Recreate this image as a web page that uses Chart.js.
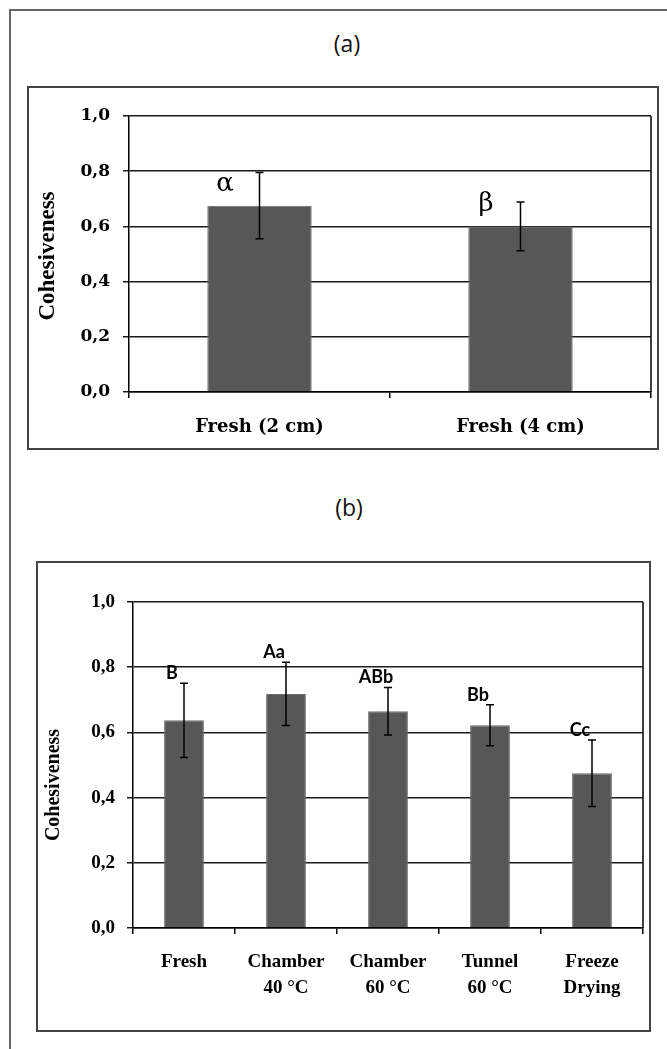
<!DOCTYPE html>
<html lang="en">
<head>
<meta charset="UTF-8">
<title>Cohesiveness</title>
<script src="https://cdn.jsdelivr.net/npm/chart.js"></script>
<style>
  body { margin: 0; background: #fff; }
  .page { position: relative; width: 667px; height: 1049px; overflow: hidden; }
  .frame { position: absolute; left: 9px; top: 9px; width: 720px; height: 1100px; border: 2px solid #666; }
  .box { position: absolute; border: 2px solid #444; box-sizing: border-box; }
  .ttl { position: absolute; width: 120px; text-align: center; font-family: "Open Sans", sans-serif; font-size: 23px; line-height: 30px; color: #111; }
  canvas { position: absolute; }
</style>
</head>
<body>
<div class="page">
  <div class="frame"></div>

  <div class="ttl" style="left:287px; top:28px;">(a)</div>
  <div class="box" style="left:27px; top:86px; width:632px; height:364px;">
    <canvas id="chartA" width="628" height="360" style="left:0; top:0;"></canvas>
  </div>

  <div class="ttl" style="left:289px; top:492px;">(b)</div>
  <div class="box" style="left:36px; top:561px; width:615px; height:471px;">
    <canvas id="chartB" width="611" height="467" style="left:0; top:0;"></canvas>
  </div>
</div>

<script>
// y axis, shared by both panels
const yTickLabels = ['0,0', '0,2', '0,4', '0,6', '0,8', '1,0'];
const yTitle = 'Cohesiveness';

// panel (a)
const catsA = ['Fresh (2 cm)', 'Fresh (4 cm)'];
const meanA = [0.675, 0.600];
const errA = [0.120, 0.088];
const lettersA = ['α', 'β'];

// panel (b)
const catsB = ['Fresh', ['Chamber', '40 °C'], ['Chamber', '60 °C'], ['Tunnel', '60 °C'], ['Freeze', 'Drying']];
const meanB = [0.637, 0.718, 0.665, 0.622, 0.475];
const errB = [0.114, 0.097, 0.073, 0.063, 0.102];
const lettersB = ['B', 'Aa', 'ABb', 'Bb', 'Cc'];

Chart.defaults.color = '#000';
Chart.defaults.font.family = '"Liberation Serif", serif';

// whiskers, letter labels, axis title and right edge of the plot frame
const extras = {
  id: 'extras',
  afterDatasetsDraw(chart, args, opts) {
    const ctx = chart.ctx;
    const y = chart.scales.y;
    const area = chart.chartArea;
    const meta = chart.getDatasetMeta(0);
    ctx.save();
    ctx.strokeStyle = '#000';
    ctx.lineWidth = 1.5;
    ctx.beginPath();
    ctx.moveTo(area.right, area.top);
    ctx.lineTo(area.right, area.bottom);
    ctx.stroke();

    meta.data.forEach((bar, i) => {
      const m = opts.mean[i], e = opts.err[i];
      const yt = y.getPixelForValue(m + e);
      const yb = y.getPixelForValue(m - e);
      ctx.beginPath();
      ctx.moveTo(bar.x, yt); ctx.lineTo(bar.x, yb);
      ctx.moveTo(bar.x - 4, yt); ctx.lineTo(bar.x + 4, yt);
      ctx.moveTo(bar.x - 4, yb); ctx.lineTo(bar.x + 4, yb);
      ctx.stroke();

      ctx.fillStyle = '#000';
      ctx.font = opts.font;
      ctx.textAlign = 'center';
      ctx.textBaseline = 'alphabetic';
      if (opts.mode === 'bar') {
        ctx.fillText(opts.letters[i], bar.x - bar.width * 0.33, bar.y - 15);
      } else {
        ctx.fillText(opts.letters[i], bar.x - 12, yt - 4);
      }
    });

    // rotated axis title
    ctx.translate(opts.titleX, (area.top + area.bottom) / 2 + opts.titleShift);
    ctx.rotate(-Math.PI / 2);
    ctx.font = opts.titleFont;
    ctx.textAlign = 'center';
    ctx.textBaseline = 'middle';
    ctx.fillText(yTitle, 0, 0);
    ctx.restore();
  }
};

function makeChart(id, cats, mean, err, letters, cfg) {
  return new Chart(document.getElementById(id), {
    type: 'bar',
    data: {
      labels: cats,
      datasets: [{
        data: mean,
        backgroundColor: '#575757',
        borderColor: '#6e6e6e',
        borderWidth: 1,
        barPercentage: cfg.barPct,
        categoryPercentage: 1.0
      }]
    },
    options: {
      responsive: false,
      animation: false,
      layout: { padding: { left: 0, right: cfg.padRight, top: cfg.padTop, bottom: 0 } },
      plugins: {
        legend: { display: false },
        tooltip: { enabled: false },
        extras: {
          mean: mean, err: err, letters: letters,
          font: cfg.letterFont, mode: cfg.letterMode,
          titleFont: cfg.titleFont, titleX: cfg.titleX, titleShift: cfg.titleShift
        }
      },
      scales: {
        x: {
          grid: { drawOnChartArea: false, drawTicks: true, tickLength: 6, color: '#000', lineWidth: 1.5 },
          border: { display: true, color: '#000', width: 1.5 },
          ticks: { font: cfg.xFont, padding: cfg.xPad, maxRotation: 0, autoSkip: false },
          afterFit: s => { s.height = cfg.xHeight; }
        },
        y: {
          min: 0,
          max: 1,
          ticks: {
            stepSize: 0.2,
            font: cfg.yFont,
            padding: cfg.yPad,
            callback: (v, i) => yTickLabels[i]
          },
          grid: { color: '#1a1a1a', lineWidth: 1.5, tickLength: 6 },
          border: { display: true, color: '#000', width: 1.5 },
          afterFit: s => { s.width = cfg.yWidth; }
        }
      }
    },
    plugins: [extras]
  });
}

makeChart('chartA', catsA, meanA, errA, lettersA, {
  barPct: 0.4,
  padRight: 6,
  padTop: 28,
  xHeight: 56,
  yWidth: 100,
  xFont: { family: '"DejaVu Serif"', weight: 'bold', size: 18 },
  xPad: 19,
  yFont: { family: '"DejaVu Serif"', weight: 'bold', size: 17 },
  yPad: 13,
  titleFont: 'bold 23px "Liberation Serif"',
  titleX: 19,
  titleShift: 2,
  letterFont: '26px "DejaVu Serif"',
  letterMode: 'bar'
});

makeChart('chartB', catsB, meanB, errB, lettersB, {
  barPct: 0.39,
  padRight: 6,
  padTop: 39,
  xHeight: 102,
  yWidth: 95,
  xFont: { family: '"Liberation Serif"', weight: 'bold', size: 19, lineHeight: 1.37 },
  xPad: 15,
  yFont: { family: '"Liberation Serif"', weight: 'bold', size: 19 },
  yPad: 12,
  titleFont: 'bold 20px "Liberation Serif"',
  titleX: 16,
  titleShift: 20,
  letterFont: 'bold 18px Lato',
  letterMode: 'whisker'
});
</script>
</body>
</html>
